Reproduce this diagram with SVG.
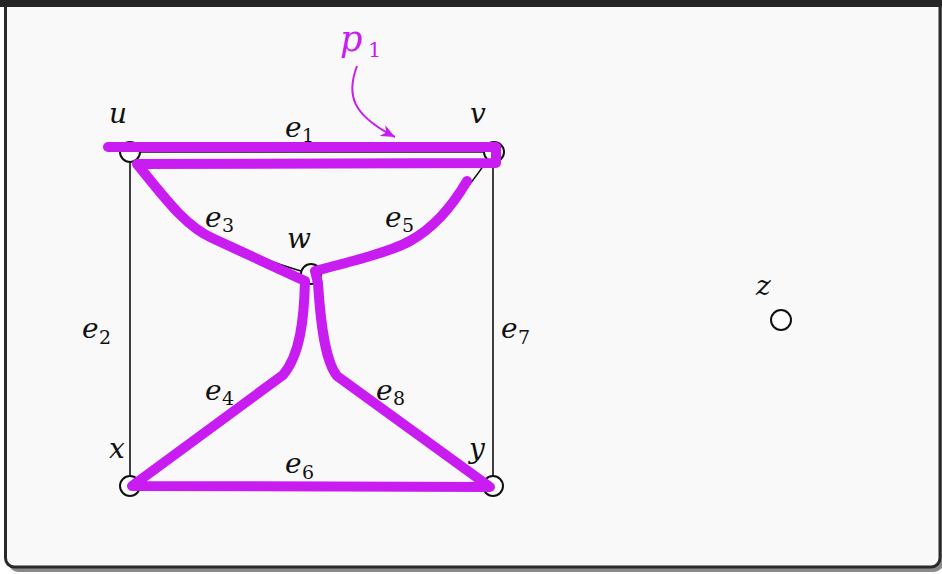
<svg xmlns="http://www.w3.org/2000/svg" width="942" height="574" viewBox="0 0 942 574">
<style>
.edge{fill:none;stroke:#111;stroke-width:1.6}
.node{fill:#fff;stroke:#111;stroke-width:2}
.lbl{font-family:"DejaVu Serif","Liberation Serif",serif;font-style:italic;font-size:28px;fill:#111}
.sub{font-family:"DejaVu Serif","Liberation Serif",serif;font-style:normal;font-size:19px;fill:#111}
.path{fill:none;stroke:#c81cf0;stroke-width:10;stroke-linecap:round;stroke-linejoin:round}
</style>
<defs>
<marker id="ah" markerUnits="userSpaceOnUse" markerWidth="16" markerHeight="12" refX="14" refY="6" orient="auto">
<path d="M0,0 L14,6 L0,12 L4,6 Z" fill="#c81cf0"/>
</marker>
</defs>
<rect x="0" y="0" width="942" height="574" fill="#ffffff"/>
<rect x="9" y="-20" width="934" height="592" rx="9" fill="#8a8a8a"/>
<rect x="5.5" y="-20" width="934.5" height="587" rx="9" fill="#f9f9f9" stroke="#2a2a2a" stroke-width="3"/>
<rect x="0" y="0" width="942" height="7" fill="#252525"/>
<g id="connectors">
<line class="edge" x1="130" y1="152" x2="493" y2="152"/>
<line class="edge" x1="130" y1="152" x2="130" y2="486"/>
<line class="edge" x1="493" y1="152" x2="493" y2="486"/>
<line class="edge" x1="130" y1="486" x2="493" y2="486"/>
<path class="edge" d="M130,152 C160,200 190,240 311,274"/>
<path class="edge" d="M493,152 C460,200 430,245 311,274"/>
<path class="edge" d="M311,274 L305,281 C304,320 300,355 283,375 L130,486"/>
<path class="edge" d="M311,274 L318,283 C321,330 326,362 337,376 L493,486"/>
<text class="lbl" x="285" y="137">e<tspan class="sub" x="302" y="142">1</tspan></text>
<text class="lbl" x="82" y="338">e<tspan class="sub" x="99" y="344">2</tspan></text>
<text class="lbl" x="205" y="227">e<tspan class="sub" x="222" y="232">3</tspan></text>
<text class="lbl" x="205" y="400">e<tspan class="sub" x="222" y="405">4</tspan></text>
<text class="lbl" x="385" y="227">e<tspan class="sub" x="402" y="232">5</tspan></text>
<text class="lbl" x="285" y="473">e<tspan class="sub" x="302" y="479">6</tspan></text>
<text class="lbl" x="501" y="338">e<tspan class="sub" x="518" y="344">7</tspan></text>
<text class="lbl" x="376" y="400">e<tspan class="sub" x="393" y="405">8</tspan></text>
</g>
<g id="node-u"><circle class="node" cx="130" cy="152" r="10"/><text class="lbl" x="109" y="123">u</text></g>
<g id="node-v"><circle class="node" cx="494" cy="152" r="10"/><text class="lbl" x="470" y="123">v</text></g>
<g id="node-w"><circle class="node" cx="311" cy="274" r="10"/><text class="lbl" x="287" y="248">w</text></g>
<g id="node-x"><circle class="node" cx="130" cy="486" r="10"/><text class="lbl" x="109" y="458">x</text></g>
<g id="node-y"><circle class="node" cx="493" cy="486" r="10"/><text class="lbl" x="469" y="458">y</text></g>
<g id="node-z"><circle class="node" cx="781" cy="320" r="10"/><text class="lbl" x="756" y="295">z</text></g>
<g id="path-p1">
<path class="path" d="M108,147 L496,147 L496,163 L137,164 C165,198 185,226 212,238 L305,281 C304,320 300,355 283,375 L132,486 L490,487 L337,376 C326,362 321,330 318,283 L315,271 C350,262 390,252 410,241 C430,230 450,210 467,181"/>
<path d="M357,66 C346,95 352,115 395,137" fill="none" stroke="#c81cf0" stroke-width="2" marker-end="url(#ah)"/>
<text x="340" y="51" font-family="DejaVu Serif, Liberation Serif, serif" font-style="italic" font-size="35" fill="#c81cf0">p<tspan x="368" y="57" font-size="21" font-style="normal">1</tspan></text>
</g>
</svg>
